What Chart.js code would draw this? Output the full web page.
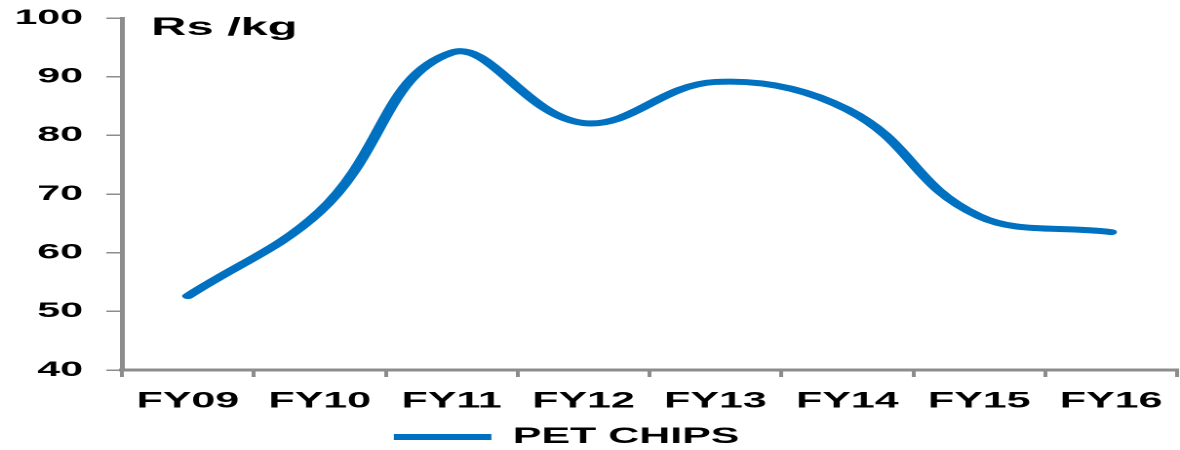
<!DOCTYPE html>
<html>
<head>
<meta charset="utf-8">
<script src="https://cdn.jsdelivr.net/npm/chart.js@4"></script>
<style>
  html, body { margin: 0; padding: 0; background: #fff; overflow: hidden; }
  /* the source picture is stretched sideways, so the chart is drawn narrow and widened */
  #wrap { width: 605px; height: 450px; transform: scaleX(1.9504); transform-origin: 0 0; }
</style>
</head>
<body>
<div id="wrap"><canvas id="chart" width="605" height="450"></canvas></div>
<script>
/* ======================= DATA ======================= */
const years = ['FY09', 'FY10', 'FY11', 'FY12', 'FY13', 'FY14', 'FY15', 'FY16'];
const petChips = [52.6, 67.0, 94.1, 82.1, 89.1, 84.4, 66.2, 63.5];
const seriesName = 'PET CHIPS';
const unitText = 'Rs /kg';
const yMin = 40, yMax = 100, yStep = 10;

/* ======================= STYLE ======================= */
const FONT = '"Liberation Sans", Arial, sans-serif';
const BLUE = '#0070C0';
const AXIS = '#8c8c8c';

// unit caption in the top-left corner of the plot
const unitLabel = {
  id: 'unitLabel',
  afterLayout(chart) {
    // legend sits a little left of centre in the source
    chart.legend.left -= 9;
    chart.legend.right -= 9;
  },
  afterDraw(chart) {
    const { ctx, chartArea } = chart;
    ctx.save();
    ctx.font = `bold 25px ${FONT}`;
    ctx.fillStyle = '#000';
    ctx.textBaseline = 'alphabetic';
    ctx.fillText(unitText, chartArea.left + 15, chartArea.top + 17);
    ctx.restore();
  }
};

/* ======================= CHART ======================= */
new Chart(document.getElementById('chart'), {
  type: 'line',
  data: {
    labels: years,
    datasets: [{
      label: seriesName,
      data: petChips,
      borderColor: BLUE,
      backgroundColor: BLUE,
      borderWidth: 6,
      borderCapStyle: 'round',
      pointRadius: 0,
      tension: 0.4,
      fill: false
    }]
  },
  options: {
    responsive: false,
    devicePixelRatio: 2,
    animation: false,
    layout: { padding: { top: 0, left: -4.5, right: 1.5, bottom: -8 } },
    plugins: {
      tooltip: { enabled: false },
      legend: {
        position: 'bottom',
        labels: {
          color: '#000',
          font: { family: FONT, size: 22, weight: 'bold' },
          usePointStyle: true,
          pointStyle: 'line',
          pointStyleWidth: 50,
          padding: 0
        }
      }
    },
    scales: {
      x: {
        offset: true,
        grid: { offset: true, drawOnChartArea: false, color: AXIS, lineWidth: 2, tickLength: 7 },
        border: { color: AXIS, width: 3 },
        ticks: { color: '#000', font: { family: FONT, size: 22, weight: 'bold', lineHeight: 1 }, padding: 13.5, maxRotation: 0 },
        afterFit(scale) { scale.paddingRight = 0; }
      },
      y: {
        min: yMin,
        max: yMax,
        ticks: { stepSize: yStep, color: '#000', font: { family: FONT, size: 21, weight: 'bold' }, padding: 12 },
        grid: { drawOnChartArea: false, color: AXIS, lineWidth: 1.5, tickLength: 8 },
        border: { color: AXIS, width: 2.5 },
        afterFit(scale) { scale.paddingTop = 18; }
      }
    }
  },
  plugins: [unitLabel]
});
</script>
</body>
</html>
